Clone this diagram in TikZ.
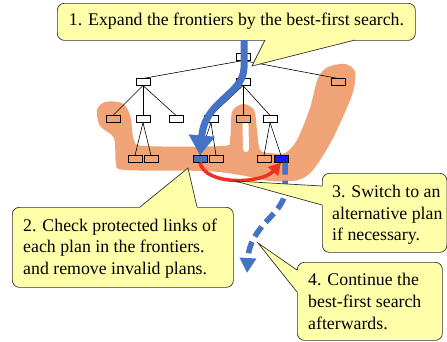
\documentclass[tikz,border=0pt]{standalone}
\usepackage{fontspec}
\setmainfont{Liberation Serif}
\usetikzlibrary{arrows.meta}
\definecolor{blob}{RGB}{241,163,120}
\definecolor{callfill}{RGB}{255,255,170}
\definecolor{arrowblue}{RGB}{68,114,196}
\definecolor{brightblue}{RGB}{25,25,245}
\definecolor{redarrow}{RGB}{235,50,35}
\definecolor{edgegray}{RGB}{50,50,50}
\begin{document}
\begin{tikzpicture}[x=1pt,y=-1pt,
  tn/.style={draw=black,line width=0.6pt,minimum width=14pt,minimum height=6.5pt,inner sep=0pt,fill=white},
  tno/.style={tn,fill=blob},
  tnb/.style={tn,fill=arrowblue},
  tnbb/.style={tn,fill=brightblue},
  tedge/.style={line width=0.6pt,black},
  cbox/.style={draw=edgegray,line width=0.7pt,fill=callfill,rounded corners=7pt,anchor=north west,inner sep=0pt},
  ptrfill/.style={fill=callfill},
  ptrline/.style={draw=edgegray,line width=0.7pt},
  ctext/.style={font=\fontsize{17.8}{21.7}\selectfont,align=left,anchor=west,inner sep=0pt},
]
\useasboundingbox (0,0) rectangle (447,341);

% orange frontier region
\fill[blob] plot[smooth cycle, tension=0.5] coordinates {
 (97,110) (105,102) (122,103) (130,115) (134,140) (145,146) (222,146) (230,140)
 (232,112) (243,104) (254,110) (257,130) (260,150) (270,153) (285,153)
 (297,140) (310,108) (318,78) (328,67) (345,64) (355,72) (352,95) (332,140)
 (313,170) (298,180) (270,181) (240,175)
 (205,171) (125,170) (116,163) (114,138) (100,126)};
\draw[white, line width=6pt, line cap=round] (245.5,125) -- (246,149);

% tree nodes
\node[tn] (r) at (243,57) {};
\node[tn] (a) at (143,82) {};
\node[tn] (b) at (243,82) {};
\node[tno] (c) at (338,82) {};
\node[tno] (a1) at (113,119) {};
\node[tn] (a2) at (143,119) {};
\node[tn] (a3) at (176,119) {};
\node[tn] (b1) at (211,119) {};
\node[tno] (b2) at (243,119) {};
\node[tn] (b3) at (270,119) {};
\node[tno] (a21) at (135,159) {};
\node[tno] (a22) at (151,159) {};
\node[tnb] (b11) at (200,159) {};
\node[tno] (b12) at (216,159) {};
\node[tno] (b31) at (264,159) {};
\node[tnbb] (b32) at (281,159) {};
\foreach \p/\c in {r/a,r/b,r/c,a/a1,a/a2,a/a3,b/b1,b/b2,b/b3,a2/a21,a2/a22,b1/b11,b1/b12,b3/b31,b3/b32}
  \draw[tedge] (\p.south) -- (\c.north);

% callout 1 box
\node[cbox, minimum width=358pt, minimum height=37pt] (c1) at (57,3) {};

% blue search arrow
\coordinate (s1) at (244,40);
\draw[arrowblue, line width=7pt, -{Triangle[width=25pt,length=20pt]}]
  (s1) -- (244,68) .. controls (243,95) and (205,100) .. (b11.north);

% red switch arrow
\draw[redarrow, line width=3.5pt, -{Triangle[width=13pt,length=12pt]}]
  (b11.south) .. controls (205,186) and (262,184) .. (b32.south);

% dashed continuation arrow
\coordinate (e4) at (247,273);
\draw[arrowblue, line width=5.5pt, dash pattern=on 12pt off 6pt, -{Triangle[width=16pt,length=15pt]}]
  ([xshift=4pt]b32.south) -- (285,192) .. controls (283,215) and (250,225) .. (e4);

% callout 1
\coordinate (p1) at (252,66);
\fill[ptrfill] (265,40) -- (p1) -- (355,40) -- (355,38) -- (265,38) -- cycle;
\draw[ptrline] (265,40) -- (p1) -- (355,40);
\node[ctext, anchor=center] (t1) at (236.5,21.5) {1. Expand the frontiers by the best-first search.};

% callout 2
\node[cbox, minimum width=221pt, minimum height=80pt] (c2) at (12,207) {};
\coordinate (p2) at (188,168);
\fill[ptrfill] (140,207) -- (p2) -- (197,207) -- (197,209) -- (140,209) -- cycle;
\draw[ptrline] (140,207) -- (p2) -- (197,207);
\node[ctext] (t2) at (23,248.5) {2. Check protected links of\\each plan in the frontiers.\\and remove invalid plans.};

% callout 3
\node[cbox, minimum width=124.5pt, minimum height=79pt] (c3) at (322,173) {};
\coordinate (p3) at (235,181);
\fill[ptrfill] (322,186) -- (p3) -- (322,205) -- (324,205) -- (324,186) -- cycle;
\draw[ptrline] (322,186) -- (p3) -- (322,205);
\node[ctext] (t3) at (332,215) {3. Switch to an\\alternative plan\\if necessary.};

% callout 4
\node[cbox, minimum width=145pt, minimum height=78pt] (c4) at (297,262) {};
\coordinate (p4) at (258,243);
\fill[ptrfill] (297,270) -- (p4) -- (297,292) -- (299,292) -- (299,270) -- cycle;
\draw[ptrline] (297,270) -- (p4) -- (297,292);
\node[ctext] (t4) at (308,301.5) {4. Continue the\\best-first search\\afterwards.};
\end{tikzpicture}
\end{document}
